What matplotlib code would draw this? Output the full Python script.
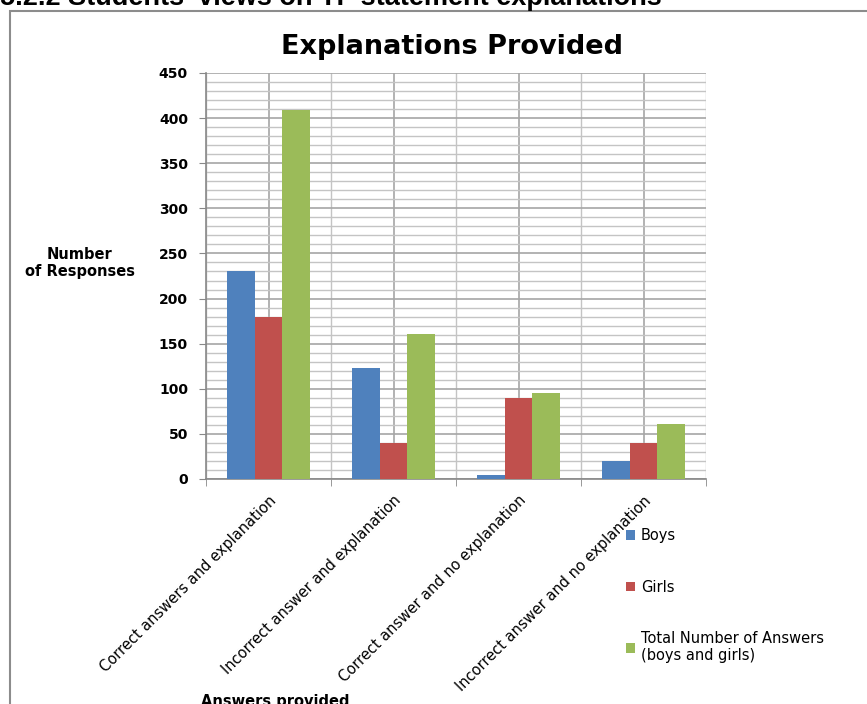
import numpy as np
import matplotlib.pyplot as plt
from matplotlib.patches import Rectangle
from matplotlib.ticker import MultipleLocator

plt.rcParams['font.family'] = ['DejaVu Sans']

# data
categories = ['Correct answers and explanation', 'Incorrect answer and explanation',
              'Correct answer and no explanation', 'Incorrect answer and no explanation']
boys = [230, 123, 4, 20]
girls = [180, 40, 90, 40]
total = [409, 161, 95, 61]
series_names = ['Boys', 'Girls', 'Total Number of Answers\n(boys and girls)']
colors = ['#4F81BD', '#C0504D', '#9BBB59']

fig = plt.figure(figsize=(8.67, 7.04), dpi=100)
ax = fig.add_axes([206/867, 225/704, 500/867, 406/704])

x = np.arange(len(categories))
w = 0.22
for i, (vals, name, c) in enumerate(zip([boys, girls, total], series_names, colors)):
    ax.bar(x + (i - 1) * w, vals, width=w, color=c, label=name, zorder=3)

ax.set_xlim(-0.5, 3.5)
ax.set_ylim(0, 450)
ax.yaxis.set_major_locator(MultipleLocator(50))
ax.yaxis.set_minor_locator(MultipleLocator(10))
ax.set_xticks(x)
ax.set_xticks(np.arange(-0.5, 4.0, 1.0), minor=True)
ax.set_xticklabels(categories, rotation=45, ha='right', rotation_mode='anchor', fontsize=10.5)
ax.tick_params(axis='x', which='major', length=0, pad=10)
ax.tick_params(axis='x', which='minor', length=5, color='#888888')
ax.tick_params(axis='y', which='major', length=5, color='#888888', labelsize=10, pad=8)
ax.tick_params(axis='y', which='minor', length=0)
for lab in ax.get_yticklabels():
    lab.set_fontweight('bold')

ax.grid(True, which='major', color='#a6a6a6', linewidth=1.2, zorder=0)
ax.grid(True, which='minor', color='#c4c4c4', linewidth=1.0, zorder=0)
for s in ['top', 'right']:
    ax.spines[s].set_visible(False)
for s in ['left', 'bottom']:
    ax.spines[s].set_color('#888888')
    ax.spines[s].set_linewidth(1.2)

fig.text(452/867, 1 - 47/704, 'Explanations Provided', ha='center', va='center',
         fontsize=19.5, fontweight='bold')
fig.text(80/867, 1 - 263/704, 'Number\nof Responses', ha='center', va='center',
         fontsize=10.5, fontweight='bold', multialignment='center')
fig.text(275/867, 1 - 694/704, 'Answers provided', ha='center', va='top',
         fontsize=10.5, fontweight='bold')
# section heading above the chart, cut off by the page edge as in the source
fig.text(0, 1 - 5/704, "5.2.2 Students' views on TF statement explanations",
         ha='left', va='baseline', fontsize=19.5, fontweight='bold',
         family=['Liberation Sans', 'DejaVu Sans'])

fig.patches.append(Rectangle((10/867, -0.1), 1.2, 1 - 11/704 + 0.1, transform=fig.transFigure,
                             fill=False, edgecolor='#8c8c8c', linewidth=1.5))

ax.legend(loc='upper left', bbox_to_anchor=(613/867, 1 - 515/704), bbox_transform=fig.transFigure,
          frameon=False, fontsize=10.5, handlelength=0.6, handleheight=0.6, handletextpad=0.4,
          labelspacing=2.5)

fig.savefig('out.png', dpi=100)
